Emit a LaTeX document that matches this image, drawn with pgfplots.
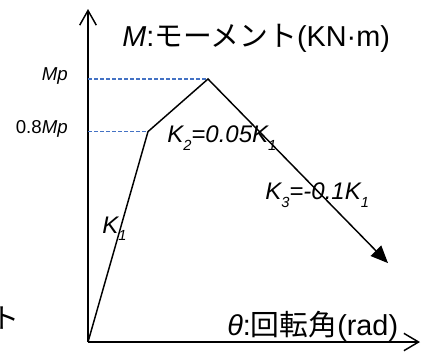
\documentclass[border=0pt]{standalone}
\usepackage{pgfplots}
\pgfplotsset{compat=1.18}
\usetikzlibrary{arrows.meta}
\usepackage{fontspec}
\setmainfont{Liberation Sans}
\newfontfamily\jp{Noto Sans CJK JP}
\definecolor{dashblue}{HTML}{4472C4}
\newcommand\sub[1]{\raisebox{-0.32em}{\fontsize{11pt}{11pt}\selectfont #1}}

\begin{document}
\begin{tikzpicture}
\begin{axis}[
  width=315.75pt, height=265.5pt, scale only axis,
  hide axis, clip=false,
  xmin=-88, xmax=333,
  ymin=-0.0456, ymax=1.3004,
]
% coordinate axes (M vertical, theta horizontal)
\addplot[black, line width=1.1pt, -{Straight Barb[length=11pt,width=12.5pt,line width=1.1pt]}]
  coordinates {(0,0) (0,1.266)};
\addplot[black, line width=1.1pt, -{Straight Barb[length=11pt,width=13pt,line width=1.1pt]}]
  coordinates {(0,0) (332,0)};

% reference levels Mp and 0.8Mp
\addplot[dashblue, line width=0.85pt, dash pattern=on 3pt off 1.5pt]
  coordinates {(0,1) (120,1)};
\addplot[dashblue, line width=0.85pt, dash pattern=on 3pt off 1.5pt]
  coordinates {(0,0.8) (60,0.8)};

% trilinear moment-rotation skeleton
\addplot[black, line width=1.1pt, line join=miter, -{Triangle[length=13pt,width=11pt]}]
  coordinates {(0,0) (60,0.8) (120,1) (300,0.30)};

% labels
\node[anchor=east, inner sep=0pt, font=\fontsize{14pt}{14pt}\selectfont\itshape] at (axis cs:-20,1.01) {Mp};
\node[anchor=east, inner sep=0pt, font=\fontsize{14pt}{14pt}\selectfont] at (axis cs:-20,0.81) {0.8\textit{Mp}};

\node[anchor=base west, inner sep=0pt, font=\fontsize{21.6pt}{21.6pt}\selectfont]
  at (axis cs:34,1.1217) {\textit{M}:{\jp モーメント}(KN·m)};
\node[anchor=base west, inner sep=0pt, font=\fontsize{21.6pt}{21.6pt}\selectfont]
  at (axis cs:139,0.0266) {\textit{θ}:{\jp 回転角}(rad)};
\node[anchor=base east, inner sep=0pt, font=\fontsize{21pt}{21pt}\jp]
  at (axis cs:-68,0.053) {ト};

\node[anchor=base west, inner sep=0pt, font=\fontsize{18pt}{18pt}\selectfont\itshape]
  at (axis cs:14,0.4144) {K\sub{1}};
\node[anchor=base west, inner sep=0pt, font=\fontsize{18pt}{18pt}\selectfont\itshape]
  at (axis cs:79,0.7567) {K\sub{2}=0.05K\sub{1}};
\node[anchor=base west, inner sep=0pt, font=\fontsize{18pt}{18pt}\selectfont\itshape]
  at (axis cs:177,0.54) {K\sub{3}=-0.1K\sub{1}};
\end{axis}
\pgfresetboundingbox
\path (current axis.south west) rectangle (current axis.north east);
\end{tikzpicture}
\end{document}
